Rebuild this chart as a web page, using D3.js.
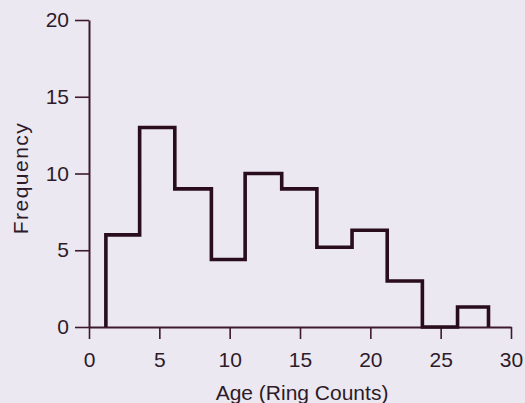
<!DOCTYPE html>
<html>
<head>
<meta charset="utf-8">
<script src="https://cdn.jsdelivr.net/npm/d3@7"></script>
<style>
  html, body { margin: 0; padding: 0; background: #ebe8f1; }
  svg { display: block; font-family: "Liberation Sans", Arial, sans-serif; }
</style>
</head>
<body>
<div id="chart"></div>
<script>
// histogram of ages (ring counts): bin edges and frequency per bin
const binEdges = [1.2, 3.6, 6.1, 8.7, 11.1, 13.7, 16.2, 18.7, 21.2, 23.7, 26.2, 28.4];
const frequencies = [6, 13, 9, 4.4, 10, 9, 5.2, 6.3, 3, 0, 1.3];
const xTicks = [0, 5, 10, 15, 20, 25, 30];
const yTicks = [0, 5, 10, 15, 20];
const xLabel = 'Age (Ring Counts)';
const yLabel = 'Frequency';

const width = 525, height = 403;
const margin = { left: 89, right: 14, top: 20, bottom: 76 };
const ink = '#2a0d1d';
const axisInk = '#3d1a2d';
const textInk = '#2e1a28';

const svg = d3.select('#chart').append('svg')
  .attr('width', width)
  .attr('height', height);

const x = d3.scaleLinear().domain([0, 30]).range([margin.left, width - margin.right]);
const y = d3.scaleLinear().domain([0, 20]).range([height - margin.bottom, margin.top]);

// axes
const xAxis = svg.append('g')
  .attr('transform', `translate(0, ${y(0)})`)
  .call(d3.axisBottom(x).tickValues(xTicks).tickSize(12).tickPadding(13).tickSizeOuter(0));

const yAxis = svg.append('g')
  .attr('transform', `translate(${x(0)}, 0)`)
  .call(d3.axisLeft(y).tickValues(yTicks).tickSize(14).tickPadding(6).tickSizeOuter(0));

[xAxis, yAxis].forEach(g => {
  g.select('.domain').attr('stroke', axisInk).attr('stroke-width', 2);
  g.selectAll('.tick line').attr('stroke', axisInk).attr('stroke-width', 1.6);
  g.selectAll('.tick text')
    .attr('fill', textInk)
    .style('font-size', '21px');
});

// step outline of the histogram
const pts = [[binEdges[0], 0]];
frequencies.forEach((f, i) => {
  pts.push([binEdges[i], f]);
  pts.push([binEdges[i + 1], f]);
});
pts.push([binEdges[binEdges.length - 1], 0]);

svg.append('path')
  .datum(pts)
  .attr('fill', 'none')
  .attr('stroke', ink)
  .attr('stroke-width', 3.6)
  .attr('stroke-linejoin', 'miter')
  .attr('d', d3.line().x(d => x(d[0])).y(d => y(d[1])));

// labels
svg.append('text')
  .attr('x', 302)
  .attr('y', 400)
  .attr('text-anchor', 'middle')
  .attr('fill', textInk)
  .style('font-size', '21px')
  .text(xLabel);

svg.append('text')
  .attr('transform', `translate(28, 178) rotate(-90)`)
  .attr('text-anchor', 'middle')
  .attr('fill', textInk)
  .style('font-size', '21px')
  .style('letter-spacing', '1.5px')
  .text(yLabel);
</script>
</body>
</html>
